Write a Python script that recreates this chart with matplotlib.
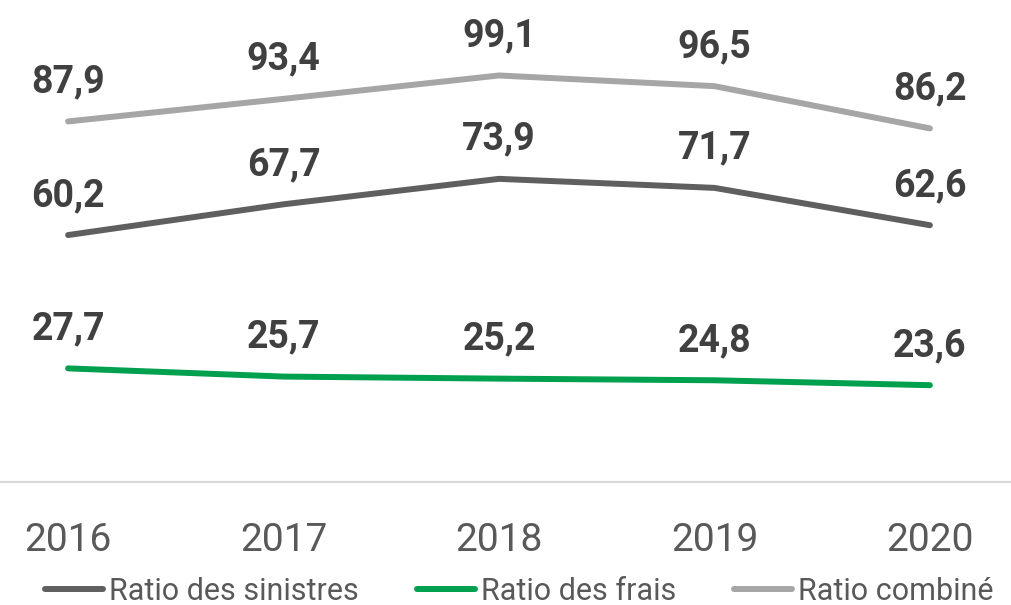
import matplotlib
matplotlib.use("Agg")
import matplotlib.pyplot as plt

# --- data ---
years = ["2016", "2017", "2018", "2019", "2020"]
ratio_sinistres = [60.2, 67.7, 73.9, 71.7, 62.6]
ratio_frais = [27.7, 25.7, 25.2, 24.8, 23.6]
ratio_combine = [87.9, 93.4, 99.1, 96.5, 86.2]

series = [
    ("Ratio des sinistres", ratio_sinistres, "#5f5f5f"),
    ("Ratio des frais", ratio_frais, "#00a04f"),
    ("Ratio combiné", ratio_combine, "#a6a6a6"),
]

narrow = ["Liberation Sans Narrow", "DejaVu Sans Condensed", "Roboto", "DejaVu Sans"]

fig = plt.figure(figsize=(10.12, 6.05), dpi=100)
ax = fig.add_axes([0, 0.2033, 1, 0.7967])

xs = list(range(len(years)))
for name, vals, col in series:
    ax.plot(xs, vals, color=col, linewidth=4.3, solid_capstyle="round", label=name)
    # value labels above each point, decimal comma
    for x, v in zip(xs, vals):
        ax.annotate(f"{v:.1f}".replace(".", ","), (x, v), xytext=(0, 21),
                    textcoords="offset points", ha="center", va="baseline",
                    fontsize=27, fontweight="bold", color="#404040",
                    family=["Roboto", "DejaVu Sans"])

ax.set_xlim(-0.316, 4.381)
ax.set_ylim(0, 117.5)
ax.set_yticks([])
ax.set_xticks(xs)
ax.set_xticklabels(years, fontsize=28, color="#595959", family=narrow)
ax.tick_params(axis="x", length=0, pad=29)
for s in ["top", "left", "right"]:
    ax.spines[s].set_visible(False)
ax.spines["bottom"].set_color("#d9d9d9")
ax.spines["bottom"].set_linewidth(1.5)

leg = fig.legend(loc="lower center", bbox_to_anchor=(0.513, -0.047), ncol=3,
                 frameon=False, handlelength=1.9, handletextpad=0.2,
                 columnspacing=1.9, prop={"family": narrow, "size": 22})
for t in leg.get_texts():
    t.set_color("#595959")

fig.savefig("out.png", dpi=100)
